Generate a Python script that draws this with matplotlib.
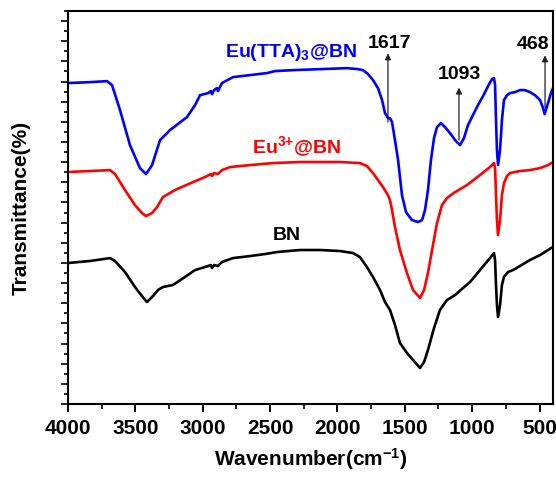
import matplotlib
matplotlib.use('Agg')
import matplotlib.pyplot as plt
from matplotlib.ticker import MultipleLocator, NullFormatter

plt.rcParams['font.family'] = 'Liberation Sans'
plt.rcParams['font.weight'] = 'bold'
plt.rcParams['mathtext.fontset'] = 'custom'
plt.rcParams['mathtext.rm'] = 'Liberation Sans:bold'
plt.rcParams['mathtext.bf'] = 'Liberation Sans:bold'
plt.rcParams['mathtext.default'] = 'bf'

# Eu(TTA)3@BN (blue), values
wn_eutta = [4000, 3837, 3711, 3673, 3614, 3540, 3466, 3421, 3376, 3317, 3243, 3117,
            3057, 3020, 2961, 2939, 2931, 2916, 2894, 2887, 2857, 2775, 2649, 2523,
            2463, 2330, 2130, 1929, 1847, 1810, 1773, 1736, 1699, 1669, 1647, 1625,
            1610, 1595, 1573, 1550, 1521, 1491, 1447, 1402, 1372, 1350, 1328, 1306,
            1283, 1261, 1231, 1202, 1164, 1127, 1090, 1061, 1031, 994, 957, 919,
            882, 853, 838, 830, 823, 816, 808, 793, 779, 764, 741, 719, 682, 645,
            608, 571, 534, 496, 474, 462, 437, 415, 400]
t_eutta = [31.85, 31.94, 32.04, 31.65, 29.17, 25.69, 23.41, 22.82, 23.71, 26.19, 27.18, 28.47,
           29.66, 30.65, 30.85, 31.05, 30.75, 31.15, 31.35, 31.05, 31.85, 32.44, 32.64, 32.84,
           33.04, 33.13, 33.23, 33.33, 33.23, 33.13, 32.74, 32.14, 31.35, 30.16, 28.87, 28.37,
           28.37, 27.98, 26.19, 24.21, 20.73, 19.05, 18.25, 18.06, 18.25, 19.25, 21.23, 24.21,
           26.39, 27.48, 27.88, 27.48, 26.88, 26.19, 25.69, 26.39, 27.68, 28.67, 29.66, 30.56,
           31.55, 32.24, 32.34, 31.65, 28.17, 25.20, 23.71, 25.20, 28.17, 30.16, 30.65, 30.85,
           30.95, 31.15, 31.15, 30.95, 30.65, 30.16, 29.37, 28.77, 29.86, 30.85, 31.35]

# Eu3+@BN (red)
wn_eu = [4000, 3837, 3688, 3651, 3577, 3503, 3451, 3421, 3376, 3339, 3295, 3206,
         3072, 2983, 2939, 2931, 2916, 2887, 2857, 2797, 2649, 2478, 2278, 1981,
         1833, 1781, 1736, 1699, 1662, 1625, 1610, 1595, 1573, 1536, 1484, 1439,
         1387, 1357, 1328, 1291, 1261, 1224, 1187, 1127, 1038, 942, 868, 838,
         830, 823, 816, 808, 793, 779, 764, 741, 719, 645, 571, 496, 437, 400]
t_eu = [23.02, 23.12, 23.21, 22.82, 21.23, 19.74, 18.95, 18.65, 18.95, 19.54, 20.54, 21.23,
        22.02, 22.52, 22.82, 22.62, 22.92, 22.82, 23.21, 23.51, 23.71, 23.91, 24.01, 24.01,
        23.91, 23.61, 22.92, 22.22, 21.53, 20.73, 20.24, 19.25, 17.56, 15.28, 13.00, 11.31,
        10.52, 11.31, 13.00, 15.77, 17.96, 19.74, 20.44, 21.03, 21.73, 22.72, 23.51, 23.91,
        23.41, 20.73, 18.25, 16.77, 18.25, 20.73, 21.92, 22.62, 22.92, 23.12, 23.21, 23.41,
        23.71, 24.01]

# BN (black)
wn_bn = [4000, 3837, 3688, 3651, 3577, 3503, 3451, 3414, 3369, 3332, 3295, 3221,
         3132, 3057, 2983, 2939, 2931, 2916, 2887, 2857, 2775, 2649, 2538, 2449,
         2278, 2130, 1981, 1884, 1833, 1781, 1736, 1684, 1647, 1610, 1573, 1536,
         1484, 1439, 1387, 1357, 1328, 1283, 1239, 1187, 1127, 1068, 1016, 942,
         868, 838, 830, 823, 816, 808, 793, 779, 764, 734, 697, 645, 571, 496,
         437, 400]
t_bn = [13.99, 14.19, 14.48, 14.19, 13.10, 11.61, 10.71, 10.12, 10.71, 11.31, 11.61, 11.81,
        12.60, 13.29, 13.59, 13.79, 13.49, 13.79, 13.69, 14.09, 14.48, 14.68, 14.88, 15.08,
        15.28, 15.28, 15.18, 14.98, 14.58, 13.59, 12.60, 11.31, 10.12, 9.33, 7.84, 6.05,
        5.06, 4.37, 3.57, 4.17, 5.36, 7.54, 9.33, 10.32, 10.81, 11.51, 12.10, 13.29,
        14.48, 14.98, 14.29, 11.81, 9.82, 8.63, 9.82, 11.81, 12.60, 13.10, 13.29, 13.69,
        14.29, 14.78, 15.28, 15.58]

# marked bands: wavenumber, arrow base, arrow tip
peak_labels = ['1617', '1093', '468']
peak_wn = [1625, 1098, 459]
arrow_base = [28.0, 26.2, 29.4]
arrow_tip = [34.8, 31.4, 34.6]
label_wn = [1610, 1098, 548]
label_y = [35.3, 32.3, 35.2]

fig = plt.figure(figsize=(5.56, 4.83), dpi=100)
ax = fig.add_axes([0.1223, 0.1636, 0.8723, 0.8136])

ax.plot(wn_eutta, t_eutta, color='#0000ff', lw=1.9, solid_joinstyle='round')
ax.plot(wn_eu, t_eu, color='#ff0000', lw=1.9, solid_joinstyle='round')
ax.plot(wn_bn, t_bn, color='black', lw=1.9, solid_joinstyle='round')

ax.text(2835, 34.42, 'Eu(TTA)$_{3}$@BN', color='#0000ff', fontsize=14, fontweight='bold')
ax.text(2634, 24.9, 'Eu$^{\\text{3+}}$@BN', color='#ff0000', fontsize=14, fontweight='bold')
ax.text(2478, 16.27, 'BN', color='black', fontsize=14, fontweight='bold')

for lab, wn, y0, y1, lx, ly in zip(peak_labels, peak_wn, arrow_base, arrow_tip, label_wn, label_y):
    ax.annotate('', xy=(wn, y1), xytext=(wn, y0),
                arrowprops=dict(arrowstyle='-|>', color='#222222', lw=0.9,
                                mutation_scale=9, shrinkA=0, shrinkB=0))
    ax.text(lx, ly, lab, ha='center', fontsize=14, fontweight='bold')

ax.set_xlim(4000, 400)
ax.set_ylim(0, 39)
ax.xaxis.set_major_locator(MultipleLocator(500))
ax.xaxis.set_minor_locator(MultipleLocator(250))
ax.yaxis.set_major_locator(MultipleLocator(2))
ax.yaxis.set_minor_locator(MultipleLocator(1))
ax.yaxis.set_major_formatter(NullFormatter())

ax.tick_params(axis='x', which='major', direction='out', length=6, width=1.4,
               labelsize=15, pad=5)
ax.tick_params(axis='x', which='minor', direction='out', length=3.5, width=1.2)
ax.tick_params(axis='y', which='major', direction='out', length=5, width=1.2)
ax.tick_params(axis='y', which='minor', direction='out', length=3, width=1.2)
for lbl in ax.get_xticklabels():
    lbl.set_fontweight('bold')
for sp in ax.spines.values():
    sp.set_linewidth(1.5)

ax.set_xlabel('Wavenumber(cm$^{-1}$)', fontsize=15, fontweight='bold', labelpad=6)
ax.set_ylabel('Transmittance(%)', fontsize=15, fontweight='bold', labelpad=18)

plt.savefig('out.png', dpi=100)
